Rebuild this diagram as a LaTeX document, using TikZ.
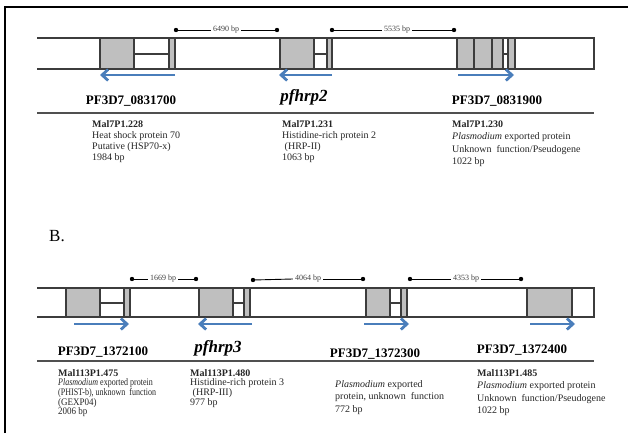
\documentclass[tikz,border=0pt]{standalone}
\usepackage{fontspec}
\setmainfont{Liberation Serif}
\usetikzlibrary{arrows.meta}
\definecolor{genegray}{HTML}{BFBFBF}
\definecolor{lineg}{HTML}{3C3C3C}
\definecolor{rulegray}{HTML}{505050}
\definecolor{arrowblue}{HTML}{4A7EBB}
\newcommand{\infoblock}[5]{%
  \foreach \t [count=\i] in {#5}
    \node[info] (#1-\i) at (#2,{#3+#4*(\i-1)}) {\t};}
\begin{document}
\begin{tikzpicture}[x=1pt,y=-1pt,
  band/.style={draw=lineg, line width=1.2pt},
  seg/.style={draw=lineg, line width=1.2pt, fill=genegray},
  garrow/.style={draw=arrowblue, line width=2.8pt, -{Straight Barb[length=6pt,width=11pt]}},
  dimline/.style={draw=black, line width=0.9pt},
  dimlab/.style={font=\fontsize{8}{9}\selectfont, text=black!75, inner sep=2pt},
  dot/.style={fill=black},
  glabel/.style={font=\fontsize{13}{15}\selectfont\bfseries, anchor=base, inner sep=0pt},
  hrplabel/.style={font=\fontsize{17}{19}\selectfont\bfseries\itshape, anchor=base, inner sep=0pt},
  rule/.style={draw=rulegray, line width=1.8pt},
  info/.style={anchor=base west, inner sep=0pt, font=\fontsize{10}{12}\selectfont, text=black!85},
  frame/.style={draw=black, line width=1.3pt}]
\useasboundingbox (0,0) rectangle (628,433);

% frame
\coordinate (fbl) at (5,433);
\coordinate (ftl) at (5,7);
\coordinate (ftr) at (628,7);
\draw[frame] (fbl) -- (ftl) -- (ftr);

%%%%%%%%%%%%%%%% Panel A %%%%%%%%%%%%%%%%
\coordinate (Atl) at (37,38);
\coordinate (Atr) at (594,38);
\coordinate (Abr) at (594,69);
\coordinate (Abl) at (37,69);
\draw[band] (Atl) -- (Atr) -- (Abr) -- (Abl);

% gene 1
\filldraw[seg] (100,38) rectangle (134,69);
\draw[band] (134,54) -- (169,54);
\filldraw[seg] (169,38) rectangle (175,69);
% gene 2 (pfhrp2)
\filldraw[seg] (280,38) rectangle (314,69);
\draw[band] (314,54) -- (327,54);
\filldraw[seg] (327,38) rectangle (332,69);
% gene 3
\filldraw[seg] (457,38) rectangle (474,69);
\filldraw[seg] (474,38) rectangle (492,69);
\filldraw[seg] (492,38) rectangle (503,69);
\draw[band] (503,54) -- (508,54);
\filldraw[seg] (508,38) rectangle (515,69);

% arrows
\coordinate (a1s) at (175,75); \coordinate (a1e) at (100,75);
\coordinate (a2s) at (332,75); \coordinate (a2e) at (279,75);
\coordinate (a3s) at (458,75); \coordinate (a3e) at (514,75);
\draw[garrow] (a1s) -- (a1e);
\draw[garrow] (a2s) -- (a2e);
\draw[garrow] (a3s) -- (a3e);

% distances
\coordinate (d1l) at (176,30); \coordinate (d1r) at (277,30);
\node[dimlab] (d1) at (226,30) {6490 bp};
\draw[dimline] (d1l) -- (d1.west); \draw[dimline] (d1.east) -- (d1r);
\fill[dot] (d1l) circle (2.2); \fill[dot] (d1r) circle (2.2);
\coordinate (d2l) at (332,30); \coordinate (d2r) at (454,30);
\node[dimlab] (d2) at (397,30) {5535 bp};
\draw[dimline] (d2l) -- (d2.west); \draw[dimline] (d2.east) -- (d2r);
\fill[dot] (d2l) circle (2.2); \fill[dot] (d2r) circle (2.2);

% gene labels
\node[glabel] (gA1) at (131,104) {PF3D7\_0831700};
\node[hrplabel] (gA2) at (304,102) {pfhrp2};
\node[glabel] (gA3) at (497,104) {PF3D7\_0831900};

\coordinate (rAl) at (37,113); \coordinate (rAr) at (594,113);
\draw[rule] (rAl) -- (rAr);

\infoblock{iA1}{92}{127}{11}{\textbf{Mal7P1.228},Heat shock protein 70,Putative (HSP70-x),1984 bp}
\infoblock{iA2}{282}{127}{11}{\textbf{Mal7P1.231},Histidine-rich protein 2,{\ (HRP-II)},1063 bp}
\infoblock{iA3}{452}{127}{12.5}{\textbf{Mal7P1.230},{\textit{Plasmodium} exported protein},Unknown\ \ function/Pseudogene,1022 bp}

%%%%%%%%%%%%%%%% Panel B %%%%%%%%%%%%%%%%
\node[font=\fontsize{17}{20}\selectfont, anchor=base west, inner sep=0pt] (Blab) at (49,241) {B.};

\coordinate (Btl) at (37,288);
\coordinate (Btr) at (594,288);
\coordinate (Bbr) at (594,317);
\coordinate (Bbl) at (37,317);
\draw[band] (Btl) -- (Btr) -- (Bbr) -- (Bbl);

% gene B1
\filldraw[seg] (66,288) rectangle (100,317);
\draw[band] (100,303) -- (124,303);
\filldraw[seg] (124,288) rectangle (130,317);
% gene B2 (pfhrp3)
\filldraw[seg] (199,288) rectangle (233,317);
\draw[band] (233,303) -- (244,303);
\filldraw[seg] (244,288) rectangle (250,317);
% gene B3
\filldraw[seg] (366,288) rectangle (390,317);
\draw[band] (390,303) -- (401,303);
\filldraw[seg] (401,288) rectangle (407,317);
% gene B4
\filldraw[seg] (527,288) rectangle (572,317);

% arrows
\coordinate (b1s) at (74,324); \coordinate (b1e) at (129,324);
\coordinate (b2s) at (252,324); \coordinate (b2e) at (198,324);
\coordinate (b3s) at (364,324); \coordinate (b3e) at (409,324);
\coordinate (b4s) at (530,324); \coordinate (b4e) at (575,324);
\draw[garrow] (b1s) -- (b1e);
\draw[garrow] (b2s) -- (b2e);
\draw[garrow] (b3s) -- (b3e);
\draw[garrow] (b4s) -- (b4e);

% distances
\coordinate (e1l) at (132,279); \coordinate (e1r) at (196,279);
\node[dimlab] (e1) at (163,279) {1669 bp};
\draw[dimline] (e1l) -- (e1.west); \draw[dimline] (e1.east) -- (e1r);
\fill[dot] (e1l) circle (2.2); \fill[dot] (e1r) circle (2.2);
\coordinate (e2l) at (253,280); \coordinate (e2r) at (363,279);
\node[dimlab] (e2) at (308,279) {4064 bp};
\draw[dimline] (e2l) -- (e2.west); \draw[dimline] (e2.east) -- (e2r);
\fill[dot] (e2l) circle (2.2); \fill[dot] (e2r) circle (2.2);
\coordinate (e3l) at (410,279); \coordinate (e3r) at (521,279);
\node[dimlab] (e3) at (466,279) {4353 bp};
\draw[dimline] (e3l) -- (e3.west); \draw[dimline] (e3.east) -- (e3r);
\fill[dot] (e3l) circle (2.2); \fill[dot] (e3r) circle (2.2);

% gene labels
\node[glabel] (gB1) at (103,355) {PF3D7\_1372100};
\node[hrplabel] (gB2) at (218,352) {pfhrp3};
\node[glabel] (gB3) at (375,357) {PF3D7\_1372300};
\node[glabel] (gB4) at (522,353) {PF3D7\_1372400};

\coordinate (rBl) at (37,361); \coordinate (rBr) at (594,361);
\draw[rule] (rBl) -- (rBr);

\infoblock{iB1}{58}{376}{9.7}{\textbf{Mal113P1.475},{\scalebox{0.8}[1]{\textit{Plasmodium} exported protein}},{\scalebox{0.8}[1]{(PHIST-b), unknown\ \ function}},{\scalebox{0.9}[1]{(GEXP04)}},{\scalebox{0.9}[1]{2006 bp}}}
\infoblock{iB2}{190}{376}{9.7}{\textbf{Mal113P1.480},Histidine-rich protein 3,{\ (HRP-III)},977 bp}
\infoblock{iB3}{335}{387}{12.5}{{\textit{Plasmodium} exported},{protein, unknown\ \ function},772 bp}
\infoblock{iB4}{477}{376}{12.5}{\textbf{Mal113P1.485},{\textit{Plasmodium} exported protein},Unknown\ \ function/Pseudogene,1022 bp}
\end{tikzpicture}
\end{document}
